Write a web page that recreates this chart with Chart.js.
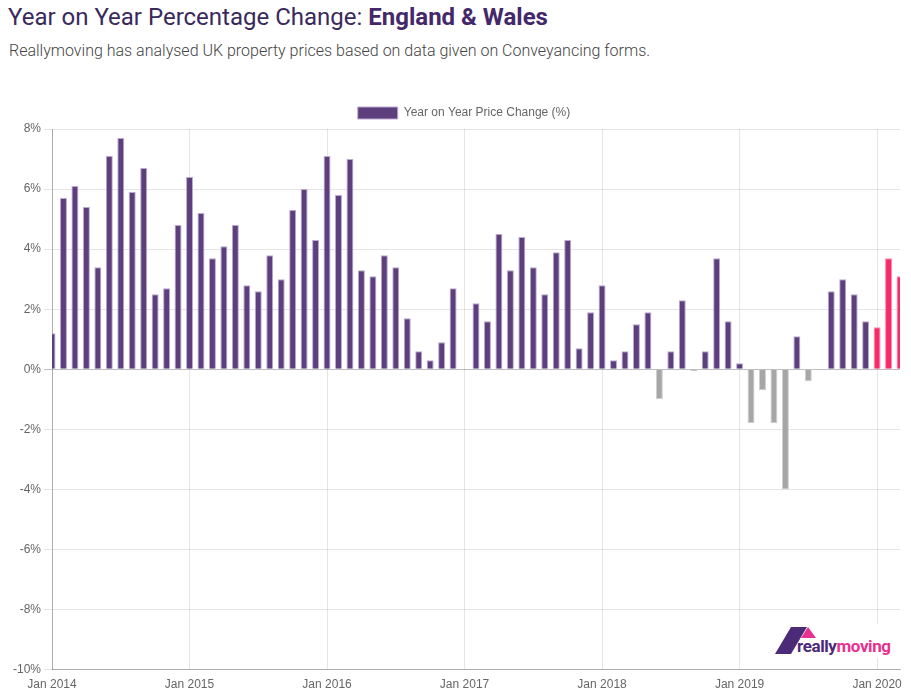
<!DOCTYPE html>
<html>
<head>
<meta charset="utf-8">
<title>Year on Year Percentage Change: England &amp; Wales</title>
<script src="https://cdn.jsdelivr.net/npm/chart.js@4.4.0/dist/chart.umd.min.js"></script>
<style>
    body { margin: 0; background: #fff; width: 911px; height: 699px; overflow: hidden; position: relative; }
    .title { position: absolute; left: 8px; top: 3px; font-family: Roboto, sans-serif; font-size: 24px; line-height: 28px; color: #3a2a5c; white-space: nowrap; }
    .title b { color: #452869; font-weight: 700; }
    .subtitle { position: absolute; left: 9px; top: 42px; font-family: Roboto, sans-serif; font-size: 16px; font-weight: 300; line-height: 18px; color: #444; white-space: nowrap; }
    .chart-wrap { position: absolute; left: 0; top: 97px; width: 911px; height: 603px; }
    .logo { position: absolute; left: 772px; top: 624px; width: 126px; height: 34px; background: #fff; }
    .logo svg { position: absolute; left: 0; top: 0; }
    .logo span.txt { position: absolute; left: 25px; top: 13px; font-family: Roboto, sans-serif; font-weight: 700; font-size: 17px; line-height: 18px; letter-spacing: -0.4px; white-space: nowrap; }
</style>
</head>
<body>
<div class="title">Year on Year Percentage Change: <b>England &amp; Wales</b></div>
<div class="subtitle">Reallymoving has analysed UK property prices based on data given on Conveyancing forms.</div>
<div class="chart-wrap"><canvas id="chart"></canvas></div>
<div class="logo">
    <svg width="50" height="34">
        <polygon points="3,30 19,3 35,3 19,30" fill="#4b2a78"/>
        <polygon points="36,3 29,14 44,14" fill="#e8308f"/>
    </svg>
    <span class="txt"><span style="color:#4b2a78">really</span><span style="color:#e8308f">moving</span></span>
</div>
<script>
// Months and years shown on the x axis
const monthNames = ['Jan', 'Feb', 'Mar', 'Apr', 'May', 'Jun', 'Jul', 'Aug', 'Sep', 'Oct', 'Nov', 'Dec'];
const years = [2014, 2015, 2016, 2017, 2018, 2019, 2020];

// Year on year change (%) per month, Jan 2014 .. Mar 2020 (null = no figure)
const change2014 = [1.2, 5.7, 6.1, 5.4, 3.4, 7.1, 7.7, 5.9, 6.7, 2.5, 2.7, 4.8];
const change2015 = [6.4, 5.2, 3.7, 4.1, 4.8, 2.8, 2.6, 3.8, 3.0, 5.3, 6.0, 4.3];
const change2016 = [7.1, 5.8, 7.0, 3.3, 3.1, 3.8, 3.4, 1.7, 0.6, 0.3, 0.9, 2.7];
const change2017 = [null, 2.2, 1.6, 4.5, 3.3, 4.4, 3.4, 2.5, 3.9, 4.3, 0.7, 1.9];
const change2018 = [2.8, 0.3, 0.6, 1.5, 1.9, -1.0, 0.6, 2.3, -0.07, 0.6, 3.7, 1.6];
const change2019 = [0.2, -1.8, -0.7, -1.8, -4.0, 1.1, -0.4, null, 2.6, 3.0, 2.5, 1.6];
const change2020 = [1.4, 3.7, 3.1];

// Y axis range and tick step
const yMin = -10;
const yMax = 8;
const yStep = 2;

const seriesLabel = 'Year on Year Price Change (%)';

// Colours
const purple = '#5d3f7e';
const purpleBorder = '#bba9d0';
const grey = '#a6a6a6';
const greyBorder = '#cfcfcf';
const pink = '#f62a69';
const pinkBorder = '#fb8fb0';

function buildLabels() {
    const labels = [];
    const total = change2014.length + change2015.length + change2016.length + change2017.length +
        change2018.length + change2019.length + change2020.length;
    for (let i = 0; i < total; i++) {
        const year = years[Math.floor(i / 12)];
        labels.push(monthNames[i % 12] + ' ' + year);
    }
    return labels;
}

function barColour(ctx, border) {
    const value = ctx.raw;
    const label = ctx.chart.data.labels[ctx.dataIndex] || '';
    if (label.endsWith('2020')) return border ? pinkBorder : pink;
    if (value !== null && value < 0) return border ? greyBorder : grey;
    return border ? purpleBorder : purple;
}

// nudge the legend a little to the right, like the original
const legendShift = {
    id: 'legendShift',
    afterLayout(chart) {
        if (chart.legend) {
            chart.legend.left += 9;
            chart.legend.right += 9;
        }
    }
};

function initialize() {
    Chart.defaults.font.family = "'Helvetica Neue', Helvetica, Arial, sans-serif";
    Chart.defaults.font.size = 12;
    Chart.defaults.color = '#666';

    const labels = buildLabels();
    const values = [].concat(change2014, change2015, change2016, change2017, change2018, change2019, change2020);

    const ctx = document.getElementById('chart').getContext('2d');
    window.myBarChart = new Chart(ctx, {
        type: 'bar',
        data: {
            labels: labels,
            datasets: [{
                label: seriesLabel,
                data: values,
                backgroundColor: c => barColour(c, false),
                borderColor: c => barColour(c, true),
                borderWidth: 1,
                barPercentage: 0.76,
                categoryPercentage: 0.8
            }]
        },
        options: {
            responsive: true,
            maintainAspectRatio: false,
            animation: false,
            layout: { padding: { left: 10, right: 11, top: 0, bottom: 0 } },
            plugins: {
                legend: {
                    position: 'top',
                    labels: {
                        boxWidth: 40,
                        generateLabels: chart => [{
                            text: seriesLabel,
                            fillStyle: purple,
                            strokeStyle: purpleBorder,
                            lineWidth: 1,
                            fontColor: '#666',
                            datasetIndex: 0
                        }]
                    }
                },
                tooltip: { enabled: false }
            },
            scales: {
                x: {
                    offset: false,
                    grid: {
                        offset: false,
                        color: 'rgba(0,0,0,0.1)',
                        drawTicks: false
                    },
                    border: { color: 'rgba(0,0,0,0.25)' },
                    ticks: {
                        autoSkip: false,
                        maxRotation: 0,
                        padding: 8,
                        callback: function (value, index) {
                            const label = this.getLabelForValue(value);
                            return label.startsWith('Jan') ? label : null;
                        }
                    }
                },
                y: {
                    min: yMin,
                    max: yMax,
                    grid: {
                        color: c => (c.tick && c.tick.value === 0) ? 'rgba(0,0,0,0.25)' : 'rgba(0,0,0,0.1)',
                        tickLength: 8
                    },
                    border: { color: 'rgba(0,0,0,0.25)' },
                    ticks: {
                        stepSize: yStep,
                        padding: 3,
                        callback: v => v + '%'
                    }
                }
            }
        },
        plugins: [legendShift]
    });
}

document.addEventListener('DOMContentLoaded', initialize);
</script>
</body>
</html>
